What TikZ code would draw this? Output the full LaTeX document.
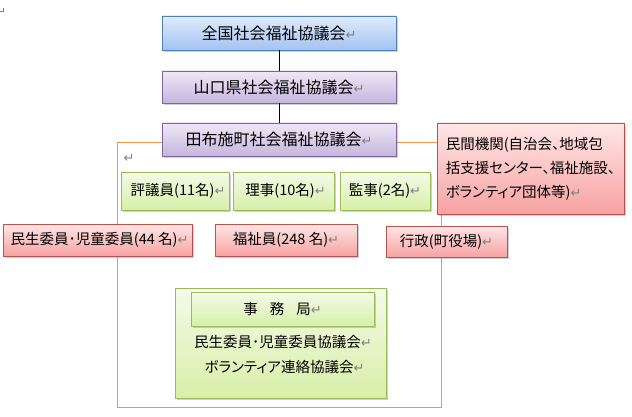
\documentclass[tikz,border=0pt]{standalone}
\usepackage{fontspec}
\setmainfont[RawFeature=+palt]{Noto Sans CJK JP}
\newfontfamily\markfont{DejaVu Sans}
\usetikzlibrary{shadows}
\definecolor{markgray}{HTML}{808080}
\definecolor{bluetop}{HTML}{E0EBFC}
\definecolor{bluebot}{HTML}{A3C3F0}
\definecolor{bluedraw}{HTML}{4F81BD}
\definecolor{purpletop}{HTML}{EEE8F5}
\definecolor{purplebot}{HTML}{C6B5DD}
\definecolor{purpledraw}{HTML}{8064A2}
\definecolor{greentop}{HTML}{F4FAE8}
\definecolor{greenbot}{HTML}{D8EFA8}
\definecolor{greendraw}{HTML}{9BBB59}
\definecolor{redtop}{HTML}{FFE6E6}
\definecolor{redbot}{HTML}{F7A2A2}
\definecolor{reddraw}{HTML}{C0504D}
\definecolor{frameorange}{HTML}{F79646}
\newcommand\pmk{{\markfont\fontsize{13}{13}\selectfont\color{markgray}↵}}
\begin{document}
\begin{tikzpicture}[x=1pt,y=-1pt,
  every node/.style={font=\fontsize{14.5}{24}\selectfont, text=black},
  bigtext/.style={font=\fontsize{16}{24}\selectfont},
  box/.style={draw, line width=0.8pt, inner sep=0pt,
    drop shadow={shadow xshift=1.5pt, shadow yshift=-2pt, opacity=0.3, fill=black!60}},
  bluebox/.style={box, draw=bluedraw, top color=bluetop, bottom color=bluebot},
  purplebox/.style={box, draw=purpledraw, top color=purpletop, bottom color=purplebot},
  greenbox/.style={box, draw=greendraw, top color=greentop, bottom color=greenbot},
  redbox/.style={box, draw=reddraw, top color=redtop, bottom color=redbot},
  link/.style={draw=black, line width=0.8pt},
  frameline/.style={draw=frameorange, line width=0.8pt}
]
\useasboundingbox (0,0) rectangle (632,417);
% corner mark
\draw[markgray, line width=0.6pt] (0,11.5) -- (3.5,11.5) -- (3.5,8);
% frame corners
\coordinate (fl) at (117,407);
\coordinate (fr) at (441,407);
% top chain
\node[bluebox, bigtext, minimum width=234pt, minimum height=34pt] (zenkoku) at (279,33) {全国社会福祉協議会\pmk};
\node[purplebox, bigtext, minimum width=234pt, minimum height=32pt] (yamaguchi) at (279,87) {山口県社会福祉協議会\pmk};
% orange frame (drawn before the boxes that cover it)
\coordinate (tw) at (162,142);
\coordinate (te) at (396,142);
\path[frameline] (tw) -| (fl) -- (fr) |- (te);
\node[purplebox, bigtext, minimum width=234pt, minimum height=33pt] (tabuse) at (279,139.5) {田布施町社会福祉協議会\pmk};
\draw[link] (zenkoku) -- (yamaguchi);
\draw[link] (yamaguchi) -- (tabuse);
% private organisations
\node[redbox, minimum width=187pt, minimum height=91pt, align=left] (minkan) at (530.5,168.5)
  {民間機関(自治会、地域包\\括支援センター、福祉施設、\\ボランティア団体等)\pmk};
\node (pm) at (129,158) {\pmk};
% green row
\node[greenbox, minimum width=108pt, minimum height=38pt] (hyogi) at (175,191) {\hspace{6pt}評議員(11名)\pmk};
\node[greenbox, minimum width=101pt, minimum height=38pt] (riji) at (283.5,191) {\hspace{4pt}理事(10名)\pmk};
\node[greenbox, minimum width=90pt, minimum height=38pt] (kanji) at (385,191) {監事(2名)\pmk};
% red row
\node[redbox, minimum width=189pt, minimum height=32pt] (minsei) at (97.5,240) {\hspace{4pt}民生委員･児童委員(44 名)\pmk};
\node[redbox, minimum width=142pt, minimum height=32pt] (fukushi) at (286,240) {福祉員(248 名)\pmk};
\node[redbox, minimum width=121pt, minimum height=31pt] (gyosei) at (446.5,241.5) {行政(町役場)\pmk};
% secretariat
\node[greenbox, minimum width=211pt, minimum height=110pt] (jimuout) at (280.5,343) {};
\node[greenbox, minimum width=183pt, minimum height=34pt] (jimu) at (282.5,309) {事\hspace{12pt}務\hspace{12pt}局\pmk};
\node (kyogi1) at (283,342) {民生委員･児童委員協議会\pmk};
\node (kyogi2) at (284.5,367) {ボランティア連絡協議会\pmk};
\end{tikzpicture}
\end{document}
